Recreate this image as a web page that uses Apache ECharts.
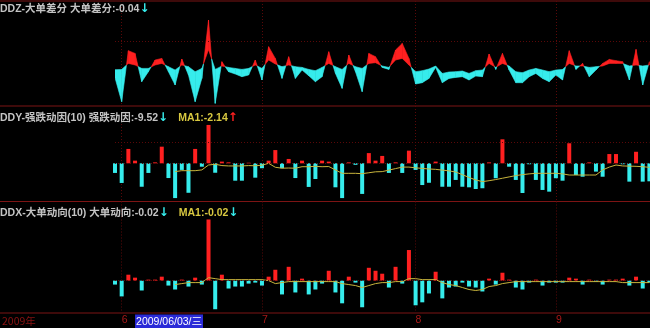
<!DOCTYPE html>
<html><head><meta charset="utf-8">
<script src="https://cdn.jsdelivr.net/npm/echarts@6.0.0/dist/echarts.min.js"></script>
<style>html,body{margin:0;padding:0;background:#000;}#c{width:650px;height:328px;}</style>
</head><body><div id="c"></div>
<script>
// ---- trading days (categories) ----
const mayDays  = [27];
const juneDays = [1,2,3,4,5,8,9,10,11,12,16,17,18,19,22,23,24,25,26,29,30];
const julyDays = [1,2,3,6,7,8,9,10,13,14,15,16,17,20,21,22,23,24,27,28,29,30,31];
const augDays  = [3,4,5,6,7,10,11,12,13,14,17,18,19,20,21,24,25,26,27,28,31];
const sepDays  = [1,2,3,4,7,8,9,10,11,14,15,16,17,18,21];
const highlightDate = '2009/06/03';
const highlightLabel = '2009/06/03/三';
const yearLabel = '2009年';

// ---- DDZ band: outer line and inner line ----
const ddzLine = [-1.1,-3.5,1.6,1.33,-1.5,-0.5,0.67,0.83,-0.5,-1.83,
 0.77,-0.83,-3.5,-1.17,4.67,-3.67,0.5,-0.5,-0.73,-1.0,
 -0.83,0.67,-1.33,2.0,0.83,-1.17,1.0,-1.17,-0.33,-0.9,
 -1.5,-1.0,1.5,-0.67,-2.17,1.17,-0.5,-2.5,1.33,1.0,
 -0.07,-0.27,1.67,2.33,0.83,-1.73,-1.6,-1.17,-0.07,-1.6,
 -1.17,-1.07,-1.0,-1.33,-0.93,-1.0,1.27,-0.27,1.33,-0.33,
 -1.6,-1.6,-1.0,-0.67,-1.17,-1.5,-0.83,-1.33,1.6,-0.27,
 0.33,-1.0,-0.33,0.33,0.73,0.6,0.5,-1.33,1.73,-1.83,
 0.5];
const ddzBase = [-0.3,-0.27,0.33,0.17,-0.17,-0.17,0.17,0.33,0,-0.33,
 0.17,0,-0.5,-0.17,1.7,-0.27,0.07,-0.07,-0.17,-0.27,
 -0.17,0.17,-0.17,0.67,0.27,0,0.17,0,-0.07,-0.27,
 -0.4,-0.07,0.33,0,-0.27,0.33,0,-0.17,0.33,0.4,
 0.07,-0.07,0.67,0.83,0.17,-0.5,-0.4,-0.23,0.07,-0.67,
 -0.53,-0.5,-0.43,-0.67,-0.4,-0.33,0.33,-0.07,0.33,0.07,
 -0.5,-0.6,-0.33,-0.17,-0.33,-0.5,-0.33,-0.27,0.33,0.07,
 0.07,-0.07,0,0.07,0.33,0.33,0.33,0.07,0.17,0.07,
 0.17];

// ---- DDY ----
const ddyValues = [-5.1,-10.4,7.6,1.4,-12.4,-5.1,0.5,8.8,-7.8,-18.4,
 -3.5,-15.6,7.6,-1.8,20.3,-5.0,0.9,0.5,-9.2,-9.2,
 0.3,-7.6,-2.6,1.4,7.0,-2.6,2.3,-7.8,1.4,-12.5,
 -8.3,1.4,0.9,-12.7,-18.4,0.5,-0.8,-16.2,5.4,1.4,
 3.9,-5.1,0.5,-5.1,6.7,-3.5,-11.5,-10.3,0.9,-12.4,
 -12.4,-8.8,-12.4,-12.7,-13.6,-13.2,0.5,-7.9,12.7,-1.8,
 -8.8,-15.7,-0.5,-8.8,-14.1,-15.0,-7.9,-9.2,10.6,-6.2,
 -7.1,0.5,-4.4,-7.1,4.9,4.9,-0.5,-9.7,6.1,-9.7,
 -9.52];
const ddyMA = [null,null,null,null,null,null,null,null,null,
 -4.4,-3.9,-3.9,-3.9,-3.5,-0.9,-0.5,-1.2,-1.4,-1.4,-1.4,-1.2,-1.3,-1.0,0.0,-2.1,-2.6,-2.5,-2.6,-1.8,-1.8,-1.6,-1.8,-1.7,-3.5,-5.3,-5.3,-5.3,-5.5,-5.0,-4.5,
 -4.4,-3.6,-2.8,-2.0,-2.0,-2.4,-2.7,-3.0,-3.2,-3.6,-4.0,-4.6,-6.0,-7.5,-8.8,-9.7,-9.2,-8.6,-7.9,-7.2,-6.5,-6.0,-5.6,-5.3,-5.3,-5.3,-5.3,-5.6,-6.2,-6.2,-6.2,-6.2,-6.2,-3.5,-2.0,-0.9,-1.4,-1.5,-1.6,-1.8,-2.14];

// ---- DDX ----
const ddxValues = [-0.04,-0.16,0.06,0.03,-0.10,0.01,0.01,0.04,-0.05,-0.09,
 0.01,-0.06,0.03,-0.04,0.62,-0.29,0.06,-0.08,-0.06,-0.06,
 -0.03,-0.02,-0.05,0.04,0.11,-0.14,0.14,-0.12,0.02,-0.14,
 -0.09,-0.03,0.10,-0.12,-0.23,0.04,-0.02,-0.27,0.13,0.10,
 0.07,-0.07,0.14,-0.03,0.31,-0.25,-0.22,-0.13,0.09,-0.18,
 -0.07,-0.06,-0.02,-0.06,-0.07,-0.11,0.02,-0.04,0.08,0.01,
 -0.07,-0.09,-0.02,0.01,-0.05,-0.02,-0.02,-0.02,0.03,0.02,
 -0.04,0.01,-0.01,-0.04,0.01,0.01,0.02,-0.05,0.04,-0.08,
 -0.02];
const ddxMA = [null,null,null,null,null,null,null,null,null,
 -0.04,-0.03,-0.02,-0.02,-0.02,0.03,0.02,0.01,0.01,0.01,
 0.01,0.01,0.01,0.01,0.0,-0.03,-0.02,-0.01,-0.01,-0.01,
 -0.01,-0.01,-0.01,-0.01,-0.01,-0.03,-0.04,-0.05,-0.07,-0.05,
 -0.03,-0.02,-0.02,-0.01,-0.01,0.02,0.02,0.01,0.01,0.01,
 -0.02,-0.04,-0.05,-0.07,-0.09,-0.10,-0.09,-0.06,-0.05,-0.03,
 -0.02,-0.01,-0.01,-0.01,-0.01,-0.01,-0.01,-0.01,-0.01,-0.01,
 -0.01,-0.01,-0.01,-0.01,-0.01,-0.01,-0.01,-0.02,-0.02,-0.02,
 -0.02,-0.02];

// ---- texts ----
const ddzTitle = 'DDZ-大单差分 大单差分:-0.04';
const ddyTitle = 'DDY-强跌动因(10) 强跌动因:-9.52';
const ddyMATitle = 'MA1:-2.14';
const ddxTitle = 'DDX-大单动向(10) 大单动向:-0.02';
const ddxMATitle = 'MA1:-0.02';

// ---- build categories ----
function pad(n){return n<10?'0'+n:''+n;}
const months = [[5,mayDays],[6,juneDays],[7,julyDays],[8,augDays],[9,sepDays]];
const categories = [];
const monthStart = {};
months.forEach(([m,days])=>{
  days.forEach((d,k)=>{
    if(k===0) monthStart[categories.length]=m;
    categories.push('2009/'+pad(m)+'/'+pad(d));
  });
});
delete monthStart[0];
const hlIdx = categories.indexOf(highlightDate);

// ---- style / layout ----
const RED='#ff2020', CYAN='#36ecec', YEL='#c8b43c', GRAY='#c4c4c4';
const BORDER='#7d1414', DOT='#5a0808', AXIS_TXT='#a81818';
const STEP=6.68, FIRST_X=115;
const LEFT=FIRST_X, WIDTH=STEP*(categories.length-1);
const panels=[{top:1,h:105},{top:106,h:95.5},{top:201.5,h:111.5}];
const yr=[[-3.93,6.57],[-20.21,30.32],[-0.313,0.802]];

const chart = echarts.init(document.getElementById('c'), null, {renderer:'canvas'});

const FONT='"Liberation Sans", "Noto Sans CJK SC", sans-serif';
const grids = panels.map(p=>({left:LEFT,width:WIDTH,top:p.top,height:p.h}));
const xAxes = panels.map((p,k)=>({
  type:'category', gridIndex:k, data:categories, boundaryGap:false,
  axisLine:{show:false}, axisTick:{show:false},
  axisLabel: k===2 ? {
    show:true, interval:(i)=> (monthStart[i]!==undefined || i===hlIdx),
    formatter:(v,i)=> i===hlIdx ? '{hl|'+highlightLabel+'}' : '{m|'+monthStart[i]+'}',
    margin:3, align:'left',
    rich:{
      hl:{backgroundColor:'#2a2ad8',color:'#ffffff',fontSize:10.5,fontFamily:FONT,padding:[2,1,1,1]},
      m:{color:AXIS_TXT,fontSize:10.5,fontFamily:FONT}
    }
  } : {show:false},
  splitLine:{show:true, interval:(i)=> monthStart[i]!==undefined,
    lineStyle:{color:DOT,type:[1,2],width:1}}
}));
const yAxes = yr.map((r,k)=>({type:'value',gridIndex:k,min:r[0],max:r[1],show:false,splitLine:{show:false}}));

function dotted(vals){
  return {silent:true,symbol:'none',animation:false,label:{show:false},
    lineStyle:{color:DOT,type:[1,2],width:1},data:vals.map(v=>({yAxis:v}))};
}

function renderBand(params, api){
  const i = params.dataIndex;
  if(i >= ddzLine.length-1) return;
  const a0=api.coord([i,ddzLine[i]]), b0=api.coord([i,ddzBase[i]]);
  const a1=api.coord([i+1,ddzLine[i+1]]), b1=api.coord([i+1,ddzBase[i+1]]);
  const d0=ddzLine[i]-ddzBase[i], d1=ddzLine[i+1]-ddzBase[i+1];
  const col=d=> d>=0?RED:CYAN;
  const poly=(pts,c)=>({type:'polygon',shape:{points:pts},style:{fill:c,stroke:c,lineWidth:0.6}});
  if(d0*d1>=0){
    return poly([a0,a1,b1,b0], col(d0+d1));
  }
  const t=d0/(d0-d1);
  const m=[a0[0]+(a1[0]-a0[0])*t, a0[1]+(a1[1]-a0[1])*t];
  return {type:'group',children:[poly([a0,m,b0],col(d0)),poly([m,a1,b1],col(d1))]};
}

const rich = {
  g:{color:GRAY,fontSize:10.5,fontFamily:FONT},
  y:{color:'#d8c840',fontSize:10.5,fontFamily:FONT},
  c:{color:CYAN,fontSize:12,fontFamily:'DejaVu Sans'},
  r:{color:RED,fontSize:12,fontFamily:'DejaVu Sans'}
};
const titleTop=[3,109,204];
const titles=[
  '{g|'+ddzTitle+'}{c|↓}',
  '{g|'+ddyTitle+'}{c|↓}  {y|'+ddyMATitle+'}{r|↑}',
  '{g|'+ddxTitle+'}{c|↓}  {y|'+ddxMATitle+'}{c|↓}'
].map((t,k)=>({text:t,left:0,top:titleTop[k],padding:0,textStyle:{rich}}));

const sepY=[1,106,201.5,313];
const graphics = sepY.map(y=>({type:'line',shape:{x1:0,y1:y,x2:650,y2:y},style:{stroke:BORDER,lineWidth:1},silent:true}));
graphics.push({type:'text',left:2,top:316,style:{text:yearLabel,fill:'#8a1212',font:'10.5px "Noto Sans CJK SC"'}});

chart.setOption({
  backgroundColor:'#000000',
  animation:false,
  title:titles,
  grid:grids, xAxis:xAxes, yAxis:yAxes,
  graphic:graphics,
  series:[
    {type:'custom',xAxisIndex:0,yAxisIndex:0,clip:true,renderItem:renderBand,
     data:ddzLine.map((v,i)=>[i,v]),encode:{x:0,y:1},markLine:dotted([2.5])},
    {type:'bar',xAxisIndex:1,yAxisIndex:1,barWidth:4,clip:false,data:ddyValues,
     itemStyle:{color:p=>p.value>=0?RED:CYAN},markLine:dotted([11.4,0])},
    {type:'line',xAxisIndex:1,yAxisIndex:1,data:ddyMA,showSymbol:false,symbol:'none',
     lineStyle:{color:YEL,width:1},itemStyle:{color:YEL},z:3},
    {type:'bar',xAxisIndex:2,yAxisIndex:2,barWidth:4,clip:false,data:ddxValues,
     itemStyle:{color:p=>p.value>=0?RED:CYAN},markLine:dotted([0])},
    {type:'line',xAxisIndex:2,yAxisIndex:2,data:ddxMA,showSymbol:false,symbol:'none',
     lineStyle:{color:YEL,width:1},itemStyle:{color:YEL},z:3}
  ]
});
</script></body></html>
